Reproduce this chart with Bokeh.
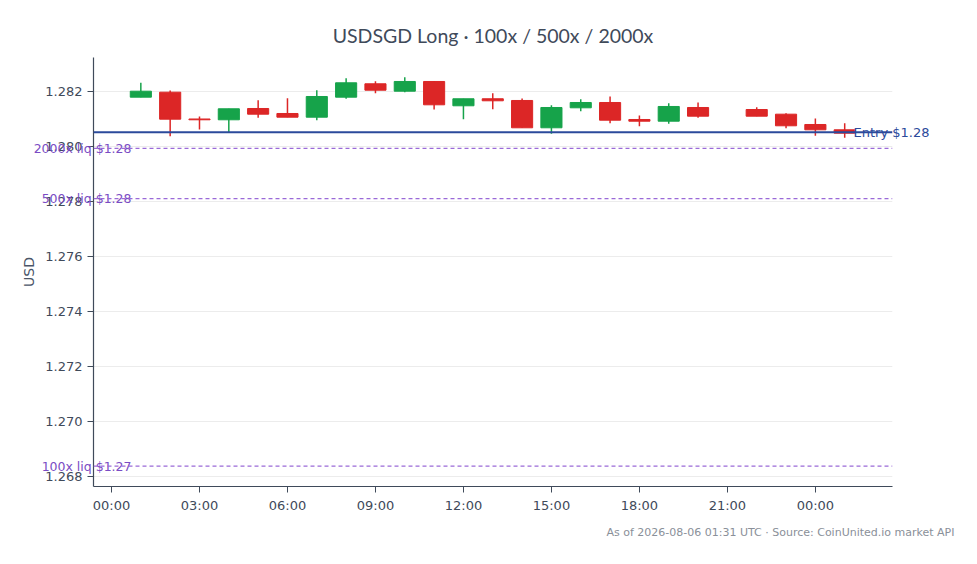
import datetime as dt
from bokeh.plotting import figure
from bokeh.models import (Range1d, Span, FixedTicker, DatetimeTickFormatter, ColumnDataSource,
                          PrintfTickFormatter, Title, LinearAxis)
from bokeh.embed import file_html
from bokeh.resources import INLINE

# ---- data ----
base_day = dt.datetime(2026, 8, 5, 0, 0)
hours = [1, 2, 3, 4, 5, 6, 7, 8, 9, 10, 11, 12, 13, 14, 15, 16, 17, 18, 19, 20, 22, 23, 24, 25]
opens = [1.281793, 1.281975, 1.281000, 1.280971, 1.281382, 1.281200, 1.281065, 1.281793,
         1.282280, 1.282011, 1.282364, 1.281480, 1.281735, 1.281673, 1.280680, 1.281407,
         1.281600, 1.280982, 1.280920, 1.281418, 1.281345, 1.281175, 1.280800, 1.280607]
highs = [1.282316, 1.282036, 1.281091, 1.281371, 1.281684, 1.281756, 1.282047, 1.282484,
         1.282375, 1.282520, 1.282380, 1.281735, 1.281938, 1.281745, 1.281502, 1.281720,
         1.281818, 1.281127, 1.281575, 1.281600, 1.281429, 1.281211, 1.281018, 1.280847]
lows = [1.281793, 1.280375, 1.280618, 1.280498, 1.281044, 1.281065, 1.280956, 1.281735,
        1.281938, 1.281975, 1.281345, 1.280993, 1.281356, 1.280680, 1.280462, 1.281284,
        1.280847, 1.280738, 1.280825, 1.281044, 1.281102, 1.280665, 1.280389, 1.280316]
closes = [1.282011, 1.280993, 1.280971, 1.281371, 1.281175, 1.281065, 1.281818, 1.282316,
          1.282047, 1.282364, 1.281516, 1.281735, 1.281662, 1.280680, 1.281418, 1.281600,
          1.280956, 1.280920, 1.281455, 1.281102, 1.281102, 1.280753, 1.280607, 1.280484]

entry_price = 1.28052
liq_names = ["100x liq $1.27", "500x liq $1.28", "2000x liq $1.28"]
liq_prices = [1.268375, 1.278107, 1.279932]
entry_label = "Entry $1.28"
y_ticks = [1.268, 1.270, 1.272, 1.274, 1.276, 1.278, 1.280, 1.282]
x_tick_hours = [0, 3, 6, 9, 12, 15, 18, 21, 24]
title_text = "USDSGD Long · 100x / 500x / 2000x"
footer_text = "As of 2026-08-06 01:31 UTC · Source: CoinUnited.io market API"

# ---- derived ----
times = [base_day + dt.timedelta(hours=h) for h in hours]
GREEN = "#16a34a"
RED = "#dc2626"
colors = [GREEN if c >= o else RED for o, c in zip(opens, closes)]
src = ColumnDataSource(dict(
    t=times, o=opens, h=highs, l=lows, c=closes,
    top=[max(o, c) for o, c in zip(opens, closes)],
    bot=[min(o, c) for o, c in zip(opens, closes)],
    col=colors,
))

def ms(d):
    return (d - dt.datetime(1970, 1, 1)).total_seconds() * 1000.0

x0 = base_day - dt.timedelta(hours=0.614)
x1 = base_day + dt.timedelta(hours=26.63)

p = figure(
    x_axis_type="datetime",
    frame_width=799, frame_height=429,
    min_border_left=93, min_border_right=68, min_border_top=57, min_border_bottom=40,
    x_range=Range1d(x0, x1), y_range=Range1d(1.267636, 1.283236),
    output_backend="svg", toolbar_location=None, background_fill_color="white",
    border_fill_color="white",
)
p.outline_line_color = None

p.title.text = title_text
p.title.align = "center"
p.title.text_font = "Lato"
p.title.text_font_size = "19.5px"
p.title.text_font_style = "normal"
p.title.text_color = "#3f4a5a"
p.title.standoff = 21

# axes
AX = "#3f4a5a"
for ax in (p.xaxis[0], p.yaxis[0]):
    ax.axis_line_color = AX
    ax.axis_line_width = 1.2
    ax.major_tick_line_color = AX
    ax.minor_tick_line_color = None
    ax.major_tick_out = 6
    ax.major_tick_in = 0
    ax.major_label_text_font = "DejaVu Sans"
    ax.major_label_text_font_size = "13px"
    ax.major_label_text_color = "#3f4a5a"

p.xaxis.ticker = FixedTicker(ticks=[ms(base_day + dt.timedelta(hours=h)) for h in x_tick_hours])
p.xaxis.formatter = DatetimeTickFormatter(hours="%H:%M", days="%H:%M", hourmin="%H:%M", minutes="%H:%M")
p.yaxis.ticker = FixedTicker(ticks=y_ticks)
p.yaxis.formatter = PrintfTickFormatter(format="%.3f")
p.yaxis.axis_label = "USD"
p.yaxis.axis_label_text_font = "DejaVu Sans"
p.yaxis.axis_label_text_font_size = "14px"
p.yaxis.axis_label_text_font_style = "normal"
p.yaxis.axis_label_text_color = "#4a5568"

p.xgrid.grid_line_color = None
p.ygrid.grid_line_color = "#ececec"
p.ygrid.grid_line_width = 1

# candles
p.segment(x0="t", y0="h", x1="t", y1="l", source=src, line_color="col", line_width=1.5)
p.vbar(x="t", width=0.72 * 3600 * 1000, top="top", bottom="bot", source=src,
       fill_color="col", line_color="col", line_width=1)

# entry line
p.add_layout(Span(location=entry_price, dimension="width", line_color="#2b4a9b", line_width=2))

# liquidation lines
for lvl in liq_prices:
    p.add_layout(Span(location=lvl, dimension="width", line_color="#9a6ad8", line_width=1.3,
                      line_dash="4 3"))

# line labels drawn as label-only side axes (side panels are not clipped to the frame)
liq_axis = LinearAxis(
    ticker=FixedTicker(ticks=liq_prices),
    major_label_overrides={v: n for v, n in zip(liq_prices, liq_names)},
    axis_line_color=None, major_tick_line_color=None, minor_tick_line_color=None,
    major_tick_out=0, major_tick_in=0, major_label_standoff=-113,
    major_label_text_font="DejaVu Sans", major_label_text_font_size="12.5px",
    major_label_text_color="#7a4cc4",
)
p.add_layout(liq_axis, "left")

entry_axis = LinearAxis(
    ticker=FixedTicker(ticks=[entry_price]),
    major_label_overrides={entry_price: entry_label},
    axis_line_color=None, major_tick_line_color=None, minor_tick_line_color=None,
    major_tick_out=0, major_tick_in=0, major_label_standoff=-39,
    major_label_text_font="DejaVu Sans", major_label_text_font_size="13px",
    major_label_text_color="#2b4a9b",
)
p.add_layout(entry_axis, "right")

footer = Title(text=footer_text, align="right", offset=-62, text_font="DejaVu Sans",
               text_font_size="11px", text_color="#8a9099", text_font_style="normal",
               standoff=16)
p.add_layout(footer, "below")

open("out.html", "w").write(file_html(p, INLINE))
